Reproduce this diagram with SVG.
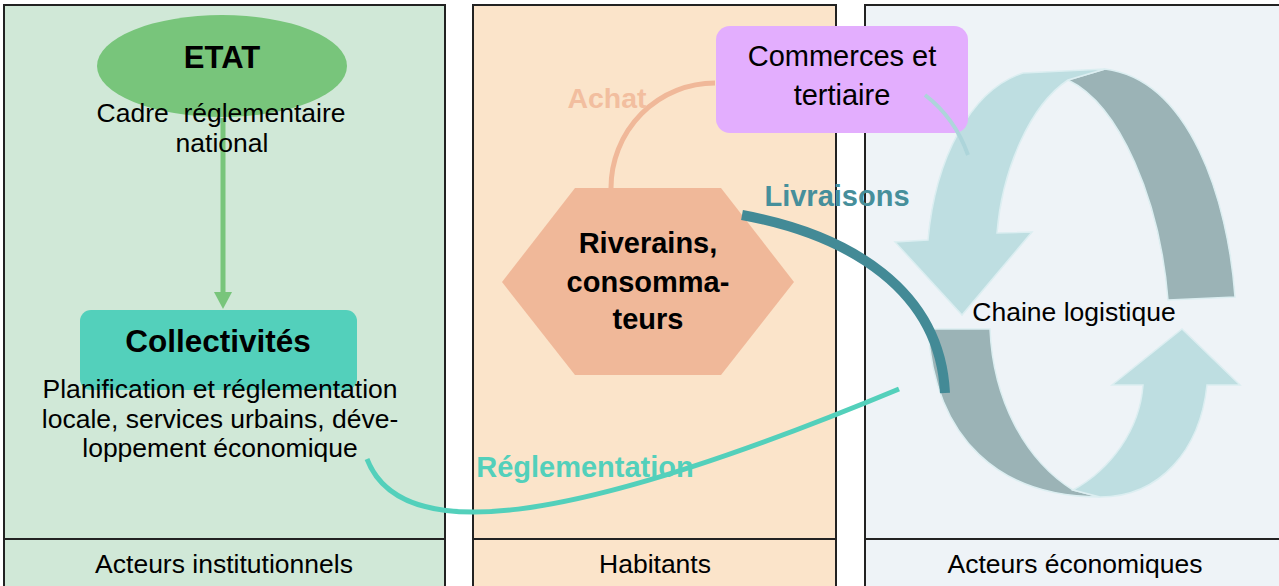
<svg xmlns="http://www.w3.org/2000/svg" width="1279" height="586" viewBox="0 0 1279 586">
<style>
.panel{stroke:#222;stroke-width:2}
.t{font-family:"Liberation Sans",Arial,sans-serif;fill:#000;text-anchor:middle}
.r{font-size:26.5px}
.b{font-weight:bold}
.rib{stroke:#DCEEF1;stroke-width:1.5}
.light{fill:#BEDEE1}
.dark{fill:#9BB3B6}
.conn{fill:none}
</style>
<defs>
<marker id="arrG" markerUnits="userSpaceOnUse" markerWidth="18" markerHeight="18" viewBox="0 0 18 18" refX="0" refY="9" orient="auto">
<path d="M0,0 L17,9 L0,18 Z" fill="#78C57B"/>
</marker>
</defs>
<rect width="1279" height="586" fill="#fff"/>
<g id="panels">
<rect class="panel" x="4" y="5" width="441" height="590" fill="#D0E8D7"/>
<line class="panel" x1="4" y1="539" x2="445" y2="539"/>
<rect class="panel" x="473" y="5" width="363" height="590" fill="#FBE4CA"/>
<line class="panel" x1="473" y1="539" x2="836" y2="539"/>
<rect class="panel" x="865" y="5" width="430" height="590" fill="#EEF3F7"/>
<line class="panel" x1="865" y1="539" x2="1295" y2="539"/>
<text class="t r" x="224" y="573">Acteurs institutionnels</text>
<text class="t r" x="655" y="573">Habitants</text>
<text class="t r" x="1075" y="573">Acteurs économiques</text>
</g>
<g id="chaine">
<path class="rib dark" d="M1068,80 C1120,105 1160,200 1168,300 L1235,297 C1228,200 1190,80 1105,69 Z"/>
<path class="rib light" d="M928,240 L895,242 L962,315 L1032,232 L997,233 C1002,170 1030,105 1068,80 L1105,69 L1023,73 C970,90 935,160 928,240 Z"/>
<path class="rib dark" d="M928,329 L990,329 C993,400 1025,460 1073,490 L1100,497 C1000,497 935,440 928,329 Z"/>
<path class="rib light" d="M1073,490 C1110,470 1140,430 1143,385 L1112,385 L1182,329 L1240,385 L1207,385 C1200,450 1160,497 1100,497 Z"/>
<text class="t r" x="1074" y="321">Chaine logistique</text>
</g>
<g id="collectivites">
<rect x="80" y="310" width="277" height="80" rx="11" fill="#53D0BB"/>
<text class="t b" x="218" y="352" font-size="31.5">Collectivités</text>
<text class="t r" x="220" y="398">Planification et réglementation</text>
<text class="t r" x="220" y="428">locale, services urbains, déve-</text>
<text class="t r" x="220" y="457">loppement économique</text>
</g>
<g id="riverains">
<polygon points="502,282 575,188 721,188 794,282 721,375 575,375" fill="#F0B899"/>
<text class="t b" x="648" y="253" font-size="29">Riverains,</text>
<text class="t b" x="648" y="292" font-size="29">consomma-</text>
<text class="t b" x="648" y="329" font-size="29">teurs</text>
</g>
<g id="commerces">
<rect x="716" y="26" width="252" height="107" rx="14" fill="#E3AEFE"/>
<text class="t" x="842" y="66" font-size="29">Commerces et</text>
<text class="t" x="842" y="105" font-size="29">tertiaire</text>
</g>
<g id="connectors">
<line class="conn" x1="223" y1="118" x2="223" y2="292" stroke="#78C57B" stroke-width="5" marker-end="url(#arrG)"/>
<path class="conn" d="M611,188 A104,105 0 0 1 715,83" stroke="#F0B899" stroke-width="5"/>
<text class="t b" x="607" y="108" font-size="28.5" style="fill:#F2BE9F">Achat</text>
<path class="conn" d="M742,215 C850,235 940,290 945,393" stroke="#438A96" stroke-width="10"/>
<text class="t b" x="837" y="206" font-size="29" style="fill:#468F9B">Livraisons</text>
<path class="conn" d="M367,459 C400,545 560,530 899,389" stroke="#53D0BB" stroke-width="5"/>
<text class="t b" x="585" y="477" font-size="29" style="fill:#53D0BB">Réglementation</text>
<path class="conn" d="M925,95 Q955,118 968,155" stroke="#ADD5DA" stroke-width="4"/>
</g>
<g id="etat">
<ellipse cx="222" cy="66" rx="125" ry="51" fill="#78C57B"/>
<text class="t b" x="222" y="68" font-size="31">ETAT</text>
<text class="t r" x="221" y="122" xml:space="preserve">Cadre  réglementaire</text>
<text class="t r" x="222" y="152">national</text>
</g>
</svg>
